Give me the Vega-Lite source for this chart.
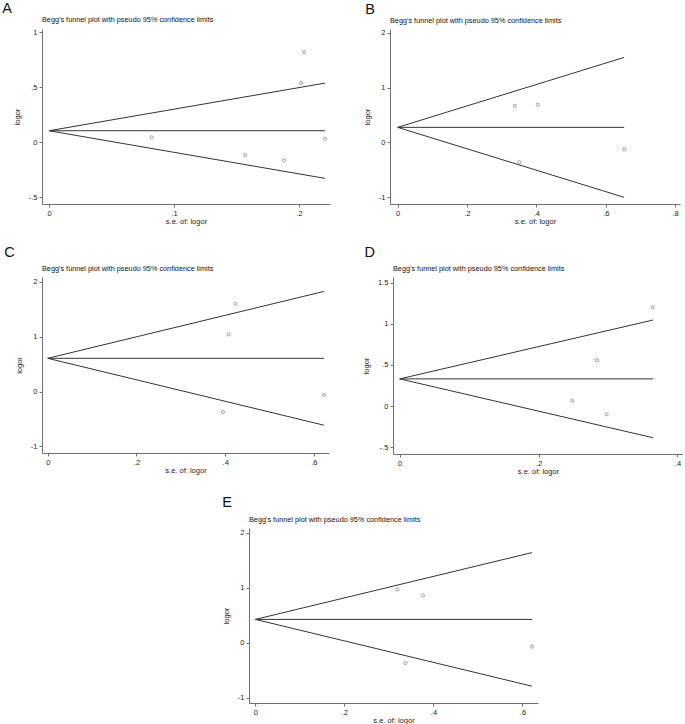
{
  "$schema": "https://vega.github.io/schema/vega-lite/v6.json",
  "padding": {"left": 2, "top": 1, "right": 0, "bottom": 0},
  "config": {
    "font": "Liberation Sans",
    "view": {"stroke": null},
    "axis": {"grid": false, "domainColor": "#707070", "tickColor": "#707070", "tickSize": 3, "labelFontSize": 7.5, "labelColor": "#222222", "titleFontSize": 7.5, "titleFontWeight": "normal", "titleColor": "#222222", "labelPadding": 2, "domainWidth": 1, "tickWidth": 1, "labelFlush": false, "labelOverlap": false},
    "title": {"fontWeight": "normal", "color": "#111111"}
  },
  "datasets": {
    "pts": [
      {"panel": "A", "se": 0.0821, "logor": 0.045},
      {"panel": "A", "se": 0.157, "logor": -0.115},
      {"panel": "A", "se": 0.188, "logor": -0.164},
      {"panel": "A", "se": 0.2016, "logor": 0.539},
      {"panel": "A", "se": 0.204, "logor": 0.818},
      {"panel": "A", "se": 0.2208, "logor": 0.033},
      {"panel": "B", "se": 0.338, "logor": 0.669},
      {"panel": "B", "se": 0.404, "logor": 0.688},
      {"panel": "B", "se": 0.351, "logor": -0.366},
      {"panel": "B", "se": 0.653, "logor": -0.128},
      {"panel": "C", "se": 0.4234, "logor": 1.6},
      {"panel": "C", "se": 0.408, "logor": 1.043},
      {"panel": "C", "se": 0.395, "logor": -0.375},
      {"panel": "C", "se": 0.6226, "logor": -0.06},
      {"panel": "D", "se": 0.3645, "logor": 1.2},
      {"panel": "D", "se": 0.284, "logor": 0.558},
      {"panel": "D", "se": 0.2486, "logor": 0.064},
      {"panel": "D", "se": 0.298, "logor": -0.1},
      {"panel": "E", "se": 0.319, "logor": 0.967},
      {"panel": "E", "se": 0.3767, "logor": 0.859},
      {"panel": "E", "se": 0.337, "logor": -0.373},
      {"panel": "E", "se": 0.6216, "logor": -0.072}
    ],
    "lines": [
      {"panel": "A", "series": "upper", "se": 0, "logor": 0.105},
      {"panel": "A", "series": "upper", "se": 0.2208, "logor": 0.538},
      {"panel": "A", "series": "center", "se": 0, "logor": 0.105},
      {"panel": "A", "series": "center", "se": 0.2208, "logor": 0.105},
      {"panel": "A", "series": "lower", "se": 0, "logor": 0.105},
      {"panel": "A", "series": "lower", "se": 0.2208, "logor": -0.328},
      {"panel": "B", "series": "upper", "se": 0, "logor": 0.274},
      {"panel": "B", "series": "upper", "se": 0.653, "logor": 1.554},
      {"panel": "B", "series": "center", "se": 0, "logor": 0.274},
      {"panel": "B", "series": "center", "se": 0.653, "logor": 0.274},
      {"panel": "B", "series": "lower", "se": 0, "logor": 0.274},
      {"panel": "B", "series": "lower", "se": 0.653, "logor": -1.006},
      {"panel": "C", "series": "upper", "se": 0, "logor": 0.607},
      {"panel": "C", "series": "upper", "se": 0.6226, "logor": 1.827},
      {"panel": "C", "series": "center", "se": 0, "logor": 0.607},
      {"panel": "C", "series": "center", "se": 0.6226, "logor": 0.607},
      {"panel": "C", "series": "lower", "se": 0, "logor": 0.607},
      {"panel": "C", "series": "lower", "se": 0.6226, "logor": -0.613},
      {"panel": "D", "series": "upper", "se": 0, "logor": 0.33},
      {"panel": "D", "series": "upper", "se": 0.365, "logor": 1.045},
      {"panel": "D", "series": "center", "se": 0, "logor": 0.33},
      {"panel": "D", "series": "center", "se": 0.365, "logor": 0.33},
      {"panel": "D", "series": "lower", "se": 0, "logor": 0.33},
      {"panel": "D", "series": "lower", "se": 0.365, "logor": -0.385},
      {"panel": "E", "series": "upper", "se": 0, "logor": 0.424},
      {"panel": "E", "series": "upper", "se": 0.6216, "logor": 1.642},
      {"panel": "E", "series": "center", "se": 0, "logor": 0.424},
      {"panel": "E", "series": "center", "se": 0.6216, "logor": 0.424},
      {"panel": "E", "series": "lower", "se": 0, "logor": 0.424},
      {"panel": "E", "series": "lower", "se": 0.6216, "logor": -0.794}
    ]
  },
  "spacing": 20,
  "vconcat": [
    {
      "spacing": 33,
      "hconcat": [
        {
          "title": {"text": "A", "anchor": "start", "fontSize": 14.5, "offset": -1, "dx": -11},
          "vconcat": [
            {
              "width": 288, "height": 175,
              "title": {"text": "Begg's funnel plot with pseudo 95% confidence limits", "anchor": "start", "frame": "group", "fontSize": 7.3, "offset": 5},
              "layer": [
                {
                  "data": {"name": "lines"},
                  "transform": [{"filter": "datum.panel === 'A'"}],
                  "mark": {"type": "line", "color": "#333333", "strokeWidth": 1},
                  "encoding": {
                    "x": {"field": "se", "type": "quantitative", "scale": {"domain": [-0.0056, 0.2248], "nice": false, "zero": false}, "axis": {"values": [0, 0.1, 0.2], "title": "s.e. of: logor", "labelExpr": "replace(toString(datum.value), '0.', '.')", "titlePadding": 1}},
                    "y": {"field": "logor", "type": "quantitative", "scale": {"domain": [-0.561, 1.03], "nice": false, "zero": false}, "axis": {"values": [-0.5, 0, 0.5, 1], "title": "logor", "labelExpr": "replace(toString(datum.value), '0.', '.')", "titlePadding": 7}},
                    "detail": {"field": "series"}
                  }
                },
                {
                  "data": {"name": "pts"},
                  "transform": [{"filter": "datum.panel === 'A'"}],
                  "mark": {"type": "point", "shape": "circle", "filled": false, "size": 10, "strokeWidth": 0.8, "color": "#555555"},
                  "encoding": {"x": {"field": "se", "type": "quantitative"}, "y": {"field": "logor", "type": "quantitative"}}
                }
              ]
            }
          ]
        },
        {
          "title": {"text": "B", "anchor": "start", "fontSize": 14.5, "offset": -1, "dx": 2},
          "vconcat": [
            {
              "width": 290, "height": 175,
              "title": {"text": "Begg's funnel plot with pseudo 95% confidence limits", "anchor": "start", "frame": "group", "fontSize": 7.3, "offset": 5},
              "layer": [
                {
                  "data": {"name": "lines"},
                  "transform": [{"filter": "datum.panel === 'B'"}],
                  "mark": {"type": "line", "color": "#333333", "strokeWidth": 1},
                  "encoding": {
                    "x": {"field": "se", "type": "quantitative", "scale": {"domain": [-0.022, 0.814], "nice": false, "zero": false}, "axis": {"values": [0, 0.2, 0.4, 0.6, 0.8], "title": "s.e. of: logor", "labelExpr": "replace(toString(datum.value), '0.', '.')", "titlePadding": 1}},
                    "y": {"field": "logor", "type": "quantitative", "scale": {"domain": [-1.128, 2.073], "nice": false, "zero": false}, "axis": {"values": [-1, 0, 1, 2], "title": "logor", "labelExpr": "replace(toString(datum.value), '0.', '.')", "titlePadding": 7}},
                    "detail": {"field": "series"}
                  }
                },
                {
                  "data": {"name": "pts"},
                  "transform": [{"filter": "datum.panel === 'B'"}],
                  "mark": {"type": "point", "shape": "circle", "filled": false, "size": 10, "strokeWidth": 0.8, "color": "#555555"},
                  "encoding": {"x": {"field": "se", "type": "quantitative"}, "y": {"field": "logor", "type": "quantitative"}}
                }
              ]
            }
          ]
        }
      ]
    },
    {
      "spacing": 33,
      "hconcat": [
        {
          "title": {"text": "C", "anchor": "start", "fontSize": 14.5, "offset": 4, "dx": -11},
          "vconcat": [
            {
              "width": 287, "height": 176,
              "title": {"text": "Begg's funnel plot with pseudo 95% confidence limits", "anchor": "start", "frame": "group", "fontSize": 7.3, "offset": 5},
              "layer": [
                {
                  "data": {"name": "lines"},
                  "transform": [{"filter": "datum.panel === 'C'"}],
                  "mark": {"type": "line", "color": "#333333", "strokeWidth": 1},
                  "encoding": {
                    "x": {"field": "se", "type": "quantitative", "scale": {"domain": [-0.0129, 0.634], "nice": false, "zero": false}, "axis": {"values": [0, 0.2, 0.4, 0.6], "title": "s.e. of: logor", "labelExpr": "replace(toString(datum.value), '0.', '.')", "titlePadding": 1}},
                    "y": {"field": "logor", "type": "quantitative", "scale": {"domain": [-1.12, 2.09], "nice": false, "zero": false}, "axis": {"values": [-1, 0, 1, 2], "title": "logor", "labelExpr": "replace(toString(datum.value), '0.', '.')", "titlePadding": 7}},
                    "detail": {"field": "series"}
                  }
                },
                {
                  "data": {"name": "pts"},
                  "transform": [{"filter": "datum.panel === 'C'"}],
                  "mark": {"type": "point", "shape": "circle", "filled": false, "size": 10, "strokeWidth": 0.8, "color": "#555555"},
                  "encoding": {"x": {"field": "se", "type": "quantitative"}, "y": {"field": "logor", "type": "quantitative"}}
                }
              ]
            }
          ]
        },
        {
          "title": {"text": "D", "anchor": "start", "fontSize": 14.5, "offset": 4, "dx": 2},
          "vconcat": [
            {
              "width": 290, "height": 177,
              "title": {"text": "Begg's funnel plot with pseudo 95% confidence limits", "anchor": "start", "frame": "group", "fontSize": 7.3, "offset": 5},
              "layer": [
                {
                  "data": {"name": "lines"},
                  "transform": [{"filter": "datum.panel === 'D'"}],
                  "mark": {"type": "line", "color": "#333333", "strokeWidth": 1},
                  "encoding": {
                    "x": {"field": "se", "type": "quantitative", "scale": {"domain": [-0.0096, 0.408], "nice": false, "zero": false}, "axis": {"values": [0, 0.2, 0.4], "title": "s.e. of: logor", "labelExpr": "replace(toString(datum.value), '0.', '.')", "titlePadding": 1}},
                    "y": {"field": "logor", "type": "quantitative", "scale": {"domain": [-0.582, 1.567], "nice": false, "zero": false}, "axis": {"values": [-0.5, 0, 0.5, 1, 1.5], "title": "logor", "labelExpr": "replace(toString(datum.value), '0.', '.')", "titlePadding": 7}},
                    "detail": {"field": "series"}
                  }
                },
                {
                  "data": {"name": "pts"},
                  "transform": [{"filter": "datum.panel === 'D'"}],
                  "mark": {"type": "point", "shape": "circle", "filled": false, "size": 10, "strokeWidth": 0.8, "color": "#555555"},
                  "encoding": {"x": {"field": "se", "type": "quantitative"}, "y": {"field": "logor", "type": "quantitative"}}
                }
              ]
            }
          ]
        }
      ]
    },
    {
      "spacing": 0,
      "hconcat": [
        {
          "width": 180, "height": 10,
          "data": {"values": [{}]},
          "mark": {"type": "point", "opacity": 0},
          "encoding": {}
        },
        {
          "title": {"text": "E", "anchor": "start", "fontSize": 14.5, "offset": 5, "dx": 0},
          "vconcat": [
            {
              "width": 289, "height": 175,
              "title": {"text": "Begg's funnel plot with pseudo 95% confidence limits", "anchor": "start", "frame": "group", "fontSize": 7.3, "offset": 5},
              "layer": [
                {
                  "data": {"name": "lines"},
                  "transform": [{"filter": "datum.panel === 'E'"}],
                  "mark": {"type": "line", "color": "#333333", "strokeWidth": 1},
                  "encoding": {
                    "x": {"field": "se", "type": "quantitative", "scale": {"domain": [-0.0144, 0.635], "nice": false, "zero": false}, "axis": {"values": [0, 0.2, 0.4, 0.6], "title": "s.e. of: logor", "labelExpr": "replace(toString(datum.value), '0.', '.')", "titlePadding": 1}},
                    "y": {"field": "logor", "type": "quantitative", "scale": {"domain": [-1.10, 2.09], "nice": false, "zero": false}, "axis": {"values": [-1, 0, 1, 2], "title": "logor", "labelExpr": "replace(toString(datum.value), '0.', '.')", "titlePadding": 7}},
                    "detail": {"field": "series"}
                  }
                },
                {
                  "data": {"name": "pts"},
                  "transform": [{"filter": "datum.panel === 'E'"}],
                  "mark": {"type": "point", "shape": "circle", "filled": false, "size": 10, "strokeWidth": 0.8, "color": "#555555"},
                  "encoding": {"x": {"field": "se", "type": "quantitative"}, "y": {"field": "logor", "type": "quantitative"}}
                }
              ]
            }
          ]
        }
      ]
    }
  ]
}
